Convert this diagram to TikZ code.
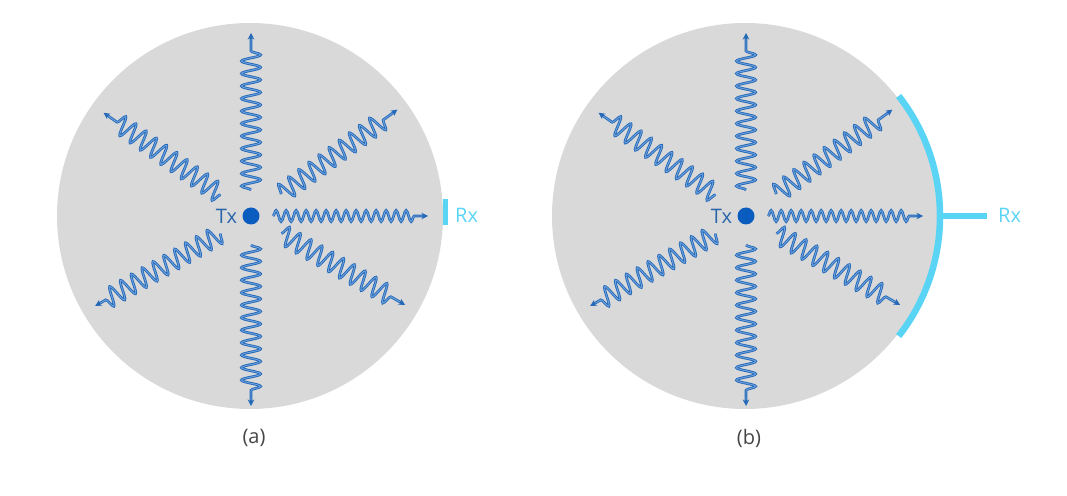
\documentclass[tikz,border=0pt]{standalone}
\usepackage{fontspec}
\setmainfont{Open Sans}
\usetikzlibrary{decorations.pathmorphing,arrows.meta,calc}
\definecolor{bg}{RGB}{217,217,217}
\definecolor{wblue}{RGB}{37,105,184}
\definecolor{wlight}{RGB}{110,162,222}
\definecolor{txblue}{RGB}{10,92,190}
\definecolor{txtext}{RGB}{40,100,170}
\definecolor{rxcyan}{RGB}{90,212,245}
\definecolor{capgray}{RGB}{70,70,70}
\begin{document}
\begin{tikzpicture}[x=1pt,y=1pt,
  bigwave/.style={decorate, decoration={snake, amplitude=9.5pt, segment length=12.5pt, post length=12pt}},
  smallwave/.style={decorate, decoration={snake, amplitude=5.5pt, segment length=10pt, post length=12pt}},
  waveout/.style={draw=wblue, line width=2.7pt, -{Stealth[length=6.5pt,width=6.5pt]}},
  wavein/.style={draw=wlight, line width=0.9pt, shorten >=6pt},
  disc/.style={fill=bg},
  txdot/.style={circle, fill=txblue, minimum size=17pt, inner sep=0pt},
  lab/.style={inner sep=0pt, font=\fontsize{20}{20}\selectfont},
  caplabel/.style={inner sep=0pt, text=capgray, font=\fontsize{20}{20}\selectfont}
]
\useasboundingbox (0,0) rectangle (1067,495);
\foreach \p/\cx in {a/250, b/745} {
  \coordinate (c\p) at (\cx,279);
  \fill[disc] (c\p) circle (193);
  \node[txdot] (tx\p) at ($(c\p)+(1,0)$) {};
  \node[lab, text=txtext, anchor=east] (txl\p) at ($(tx\p.west)+(-5,0)$) {Tx};
  \foreach \i/\ang/\rs/\re in {1/90/26/183, 2/270/29/190, 3/145/37/180, 4/36/37/181, 5/210/35/180, 6/330/35/178} {
    \coordinate (s\p\i) at ($(tx\p)+(\ang:\rs)$);
    \coordinate (e\p\i) at ($(tx\p)+(\ang:\re)$);
    \draw[bigwave, waveout] (s\p\i) -- (e\p\i);
    \draw[bigwave, wavein] (s\p\i) -- (e\p\i);
  }
  \coordinate (s\p0) at ($(tx\p)+(22,0)$);
  \coordinate (e\p0) at ($(tx\p)+(177,0)$);
  \draw[smallwave, waveout] (s\p0) -- (e\p0);
  \draw[smallwave, wavein] (s\p0) -- (e\p0);
}
% (a) receiver
\node[fill=rxcyan, minimum width=5.5pt, minimum height=26pt, inner sep=0pt] (rxa) at (445.7,283) {};
\node[lab, text=rxcyan, anchor=west] (rxla) at (455,279.5) {Rx};
% (b) receiver
\coordinate (arcb) at ($(cb)+(-38:195)$);
\draw[rxcyan, line width=6.5pt] (arcb) arc[start angle=-38, end angle=38, radius=195];
\coordinate (stubs) at ($(cb)+(195,0)$);
\coordinate (stube) at (987,279);
\draw[rxcyan, line width=6pt] (stubs) -- (stube);
\node[lab, text=rxcyan, anchor=west] (rxlb) at (998,279.5) {Rx};
% captions
\node[caplabel] (capa) at (254,57) {(a)};
\node[caplabel] (capb) at (749,57) {(b)};
\end{tikzpicture}
\end{document}
